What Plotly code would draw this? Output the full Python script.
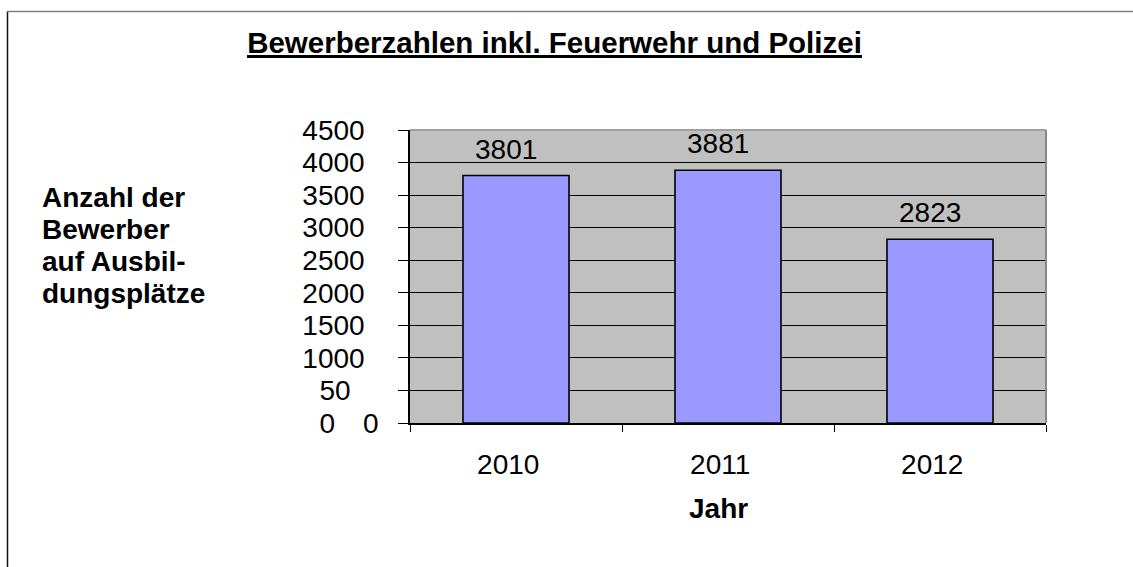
import plotly.graph_objects as go

years = ["2010", "2011", "2012"]
applicants = [3801, 3881, 2823]
y_ticks = [0, 500, 1000, 1500, 2000, 2500, 3000, 3500, 4000, 4500]
y_tick_text = ["0\u20030", "50\u2003", "1000\u2002", "1500\u2002", "2000\u2002", "2500\u2002",
               "3000\u2002", "3500\u2002", "4000\u2002", "4500\u2002"]
y_title_lines = ["Anzahl der", "Bewerber", "auf Ausbil-", "dungsplätze"]

W, H = 1133, 567
L, R, T, B = 410, 87, 130, 144
PW, PH = W - L - R, H - T - B
FONT = "Liberation Sans, Arial, sans-serif"


def px_x(x):
    return (x - L) / PW


def px_y(y):
    return (H - B - y) / PH


fig = go.Figure()
fig.add_trace(go.Bar(
    x=years, y=applicants,
    marker={"color": "#9999FF", "line": {"color": "#000000", "width": 1.6}},
    hoverinfo="x+y",
))

# value labels, placed by category index on the category axis
for i, val in enumerate(applicants):
    fig.add_annotation(x=i, y=val, text=str(val), showarrow=False, yanchor="bottom",
                       xshift=-10, yshift=9, font={"size": 28, "color": "#000"})

# y title, one line each (tight line spacing like the original)
for i, line in enumerate(y_title_lines):
    fig.add_annotation(xref="paper", yref="paper", x=px_x(40), y=px_y(197 + 32 * i), xanchor="left",
                       yanchor="middle", showarrow=False, text=f"<b>{line}</b>",
                       font={"size": 28, "color": "#000"})
fig.add_annotation(xref="paper", yref="paper", x=px_x(718), y=px_y(508), xanchor="center", yanchor="middle",
                   showarrow=False, text="<b>Jahr</b>", font={"size": 28, "color": "#000"})

# page frame, title underline and plot border
fig.add_shape(type="line", xref="paper", yref="paper", x0=px_x(7.5), x1=px_x(7.5), y0=px_y(11), y1=px_y(570),
              line={"color": "#111", "width": 1.5})
fig.add_shape(type="line", xref="paper", yref="paper", x0=px_x(7), x1=px_x(1140), y0=px_y(11.5), y1=px_y(11.5),
              line={"color": "#808080", "width": 1.5})
fig.add_shape(type="line", xref="paper", yref="paper", x0=px_x(247), x1=px_x(862), y0=px_y(56.5), y1=px_y(56.5),
              line={"color": "#000", "width": 3})
fig.add_shape(type="line", xref="paper", yref="paper", x0=0, x1=1, y0=1, y1=1,
              line={"color": "#A0A0A0", "width": 2})
fig.add_shape(type="line", xref="paper", yref="paper", x0=1, x1=1, y0=0, y1=1,
              line={"color": "#888888", "width": 2})

fig.update_layout(
    width=W, height=H,
    margin={"l": L, "r": R, "t": T, "b": B},
    paper_bgcolor="#FFFFFF",
    plot_bgcolor="#C0C0C0",
    bargap=0.5,
    showlegend=False,
    font={"family": FONT, "color": "#000"},
    title={"text": "<b>Bewerberzahlen inkl. Feuerwehr und Polizei</b>",
           "x": 554.5 / W, "xanchor": "center", "y": 1 - 43 / H, "yanchor": "middle",
           "font": {"size": 29.5, "color": "#000"}},
)
fig.update_yaxes(
    range=[0, 4500], tickvals=y_ticks, ticktext=y_tick_text,
    showgrid=True, gridcolor="#000000", gridwidth=1,
    showline=True, linecolor="#000", linewidth=1.5,
    ticks="outside", ticklen=10, tickcolor="#000", tickwidth=1,
    tickfont={"size": 28}, ticklabelstandoff=14, zeroline=False,
)
fig.update_xaxes(
    type="category", range=[-0.5, len(years) - 0.5],
    tickmode="array", tickvals=list(range(len(years))), ticktext=[y + "\u00a0\u00a0" for y in years],
    showline=True, linecolor="#000", linewidth=1.5,
    ticks="outside", ticklen=7, tickson="boundaries", tickcolor="#000", tickwidth=1,
    tickfont={"size": 28}, ticklabelstandoff=16, showgrid=False,
)

fig.write_html("out.html", config={"displayModeBar": False},
               post_script="document.body.style.margin='0';")
